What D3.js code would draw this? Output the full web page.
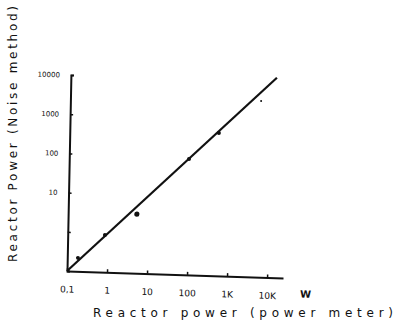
<!DOCTYPE html>
<html>
<head>
<meta charset="utf-8">
<script src="https://cdn.jsdelivr.net/npm/d3@7"></script>
<style>
  body { margin: 0; background: #fff; }
  svg { display: block; }
</style>
</head>
<body>
<svg id="chart" width="394" height="328"></svg>
<script>
// power meter reading (W) vs noise method reading
const xTicks = [0.1, 1, 10, 100, 1000, 10000];
const xTickLabels = ['0,1', '1', '10', '100', '1K', '10K'];
const yTicks = [0.1, 1, 10, 100, 1000, 10000];
const yTickLabels = ['', '', '10', '100', '1000', '10000'];

const pointX = [0.185, 0.85, 5.2, 98, 530, 5800];
const pointY = [0.22, 0.89, 3.2, 90, 440, 3100];

const lineX = [0.1, 14000];
const lineY = [0.1, 12500];

const svg = d3.select('#chart');

/**
 * SIZE DEFINITIONS
 */
const originX = 67;
const originY = 271;
const xLen = 216;
const yLen = 196;
const ink = '#111';

/**
 * SCALES
 */
const xScale = d3.scaleLog().domain([0.1, 25000]).range([0, xLen]);
const yScale = d3.scaleLog().domain([0.1, 10000]).range([0, -yLen]);

// hand drawn axes lean a little
const plot = svg
  .append('g')
  .attr('transform', `translate(${originX},${originY}) matrix(1,0.032,-0.02,1,0,0)`);

/**
 * AXES
 */
const xAxis = d3
  .axisBottom(xScale)
  .tickValues(xTicks)
  .tickFormat((d, i) => xTickLabels[i])
  .tickSizeInner(-3)
  .tickSizeOuter(0)
  .tickPadding(15);

const gX = plot.append('g').call(xAxis);

const yAxis = d3
  .axisLeft(yScale)
  .tickValues(yTicks)
  .tickFormat((d, i) => yTickLabels[i])
  .tickSizeInner(-3)
  .tickSizeOuter(-3)
  .tickPadding(11);

const gY = plot.append('g').call(yAxis);

[gX, gY].forEach((g) => {
  g.attr('font-family', 'DejaVu Sans').attr('font-size', 7);
  g.select('.domain').attr('stroke', ink).attr('stroke-width', 2);
  g.selectAll('.tick line').attr('stroke', ink).attr('stroke-width', 1.5);
  g.selectAll('.tick text').attr('fill', ink);
});
gX.selectAll('.tick text').attr('font-size', 9);

// unit after the last tick
plot
  .append('text')
  .attr('x', xScale(25000) + 23)
  .attr('y', 19)
  .attr('fill', ink)
  .attr('font-family', 'DejaVu Sans')
  .attr('font-weight', 'bold')
  .attr('font-size', 10)
  .attr('text-anchor', 'middle')
  .text('W');

/**
 * FIT LINE
 */
const line = d3
  .line()
  .x((d) => xScale(d[0]))
  .y((d) => yScale(d[1]));

plot
  .append('path')
  .attr('d', line(d3.zip(lineX, lineY)))
  .attr('fill', 'none')
  .attr('stroke', ink)
  .attr('stroke-width', 2.2);

/**
 * MEASURED POINTS
 */
plot
  .selectAll('circle.pt')
  .data(d3.zip(pointX, pointY))
  .join('circle')
  .attr('class', 'pt')
  .attr('cx', (d) => xScale(d[0]))
  .attr('cy', (d) => yScale(d[1]))
  .attr('r', (d, i) => (i === 2 ? 2.6 : i === 5 ? 1 : 2))
  .attr('fill', ink);

/**
 * AXIS TITLES
 */
svg
  .append('text')
  .attr('transform', 'translate(17,134) rotate(-90)')
  .attr('text-anchor', 'middle')
  .attr('font-family', 'DejaVu Sans')
  .attr('font-size', 12)
  .attr('fill', ink)
  .attr('textLength', 256)
  .attr('lengthAdjust', 'spacing')
  .text('Reactor Power (Noise method)');

svg
  .append('text')
  .attr('x', 93)
  .attr('y', 317)
  .attr('font-family', 'DejaVu Sans')
  .attr('font-size', 12)
  .attr('fill', ink)
  .attr('textLength', 300)
  .attr('lengthAdjust', 'spacing')
  .text('Reactor power (power meter)');
</script>
</body>
</html>
